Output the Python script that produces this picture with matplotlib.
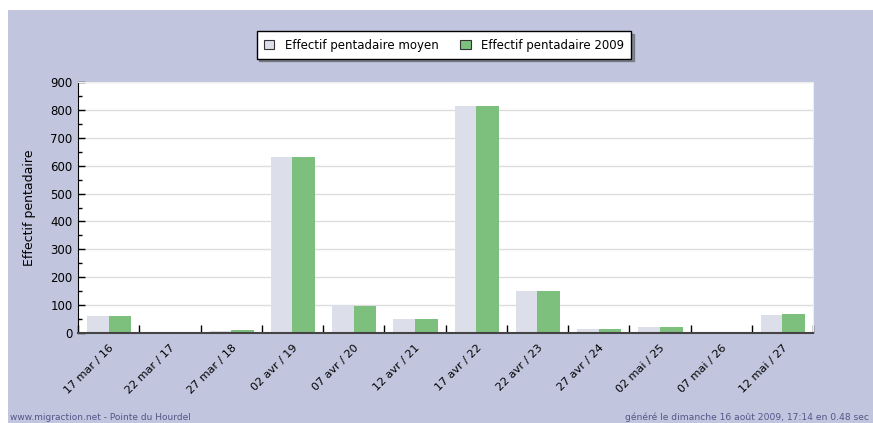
import numpy as np
import matplotlib.pyplot as plt
from matplotlib.patches import Rectangle
from matplotlib.ticker import MultipleLocator

# Données
periodes = ['17 mar / 16', '22 mar / 17', '27 mar / 18', '02 avr / 19', '07 avr / 20',
            '12 avr / 21', '17 avr / 22', '22 avr / 23', '27 avr / 24', '02 mai / 25',
            '07 mai / 26', '12 mai / 27']
moyen = [62, 0, 8, 632, 100, 50, 815, 150, 13, 20, 3, 65]
annee_2009 = [62, 0, 10, 632, 97, 50, 815, 150, 15, 20, 5, 67]

W, H = 873, 423
fond = '#c1c5de'

fig = plt.figure(figsize=(W / 100, H / 100), dpi=100, facecolor='white')
fig.add_artist(Rectangle((8 / W, 0), 1, 1 - 10 / H, transform=fig.transFigure,
                         facecolor=fond, edgecolor='none', zorder=-10))

ax = fig.add_axes([78 / W, 1 - 333 / H, (813 - 78) / W, (333 - 82) / H])
ax.set_facecolor('white')

x = np.arange(len(periodes))
ax.bar(x - 0.35, moyen, width=0.35, align='edge', color='#dcdfea', zorder=2,
       label='Effectif pentadaire moyen')
ax.bar(x, annee_2009, width=0.37, align='edge', color='#7dc07d', zorder=2,
       label='Effectif pentadaire 2009')

ax.set_xlim(-0.5, len(periodes) - 0.5)
ax.set_ylim(0, 900)
ax.yaxis.set_major_locator(MultipleLocator(100))
ax.yaxis.set_minor_locator(MultipleLocator(50))
ax.grid(axis='y', color='#dddddd', linewidth=1, zorder=1)
ax.set_axisbelow(True)

# ticks x : séparateurs entre catégories, étiquettes au centre
ax.set_xticks(np.arange(len(periodes) + 1) - 0.5)
ax.set_xticklabels([])
ax.set_xticks(x, minor=True)
ax.set_xticklabels(periodes, minor=True, rotation=45, ha='right', va='top',
                   rotation_mode='anchor', fontsize=8)
ax.tick_params(axis='x', which='major', direction='in', length=6, width=1, color='black')
ax.tick_params(axis='x', which='minor', length=0, pad=7)
ax.tick_params(axis='y', which='major', direction='in', length=5, width=1,
               color='black', labelsize=8.5, pad=4)
ax.tick_params(axis='y', which='minor', direction='in', length=3, width=1, color='black')

for s in ['top', 'right']:
    ax.spines[s].set_color('#eeeeee')
ax.spines['left'].set_color('black')
ax.spines['bottom'].set_color('#444444')
ax.spines['bottom'].set_linewidth(1.5)

ax.set_ylabel('Effectif pentadaire', fontsize=9, labelpad=10)

leg = fig.legend(loc='center', bbox_to_anchor=(444 / W, 1 - 45 / H), ncol=2,
                 fontsize=8.5, frameon=True, fancybox=False, shadow=True,
                 edgecolor='black', handlelength=0.9, handleheight=0.9,
                 columnspacing=1.8, borderpad=0.6, handletextpad=0.9)
leg.get_frame().set_linewidth(1)
for h in leg.legend_handles:
    h.set_edgecolor('#333333')
    h.set_linewidth(0.8)

fig.text(10 / W, 1 - 417 / H, 'www.migraction.net - Pointe du Hourdel',
         fontsize=6.5, color='#555588', va='center', ha='left')
fig.text(869 / W, 1 - 417 / H, 'généré le dimanche 16 août 2009, 17:14 en 0.48 sec',
         fontsize=6.6, color='#555588', va='center', ha='right')

fig.savefig('out.png', dpi=100, facecolor=fig.get_facecolor())
